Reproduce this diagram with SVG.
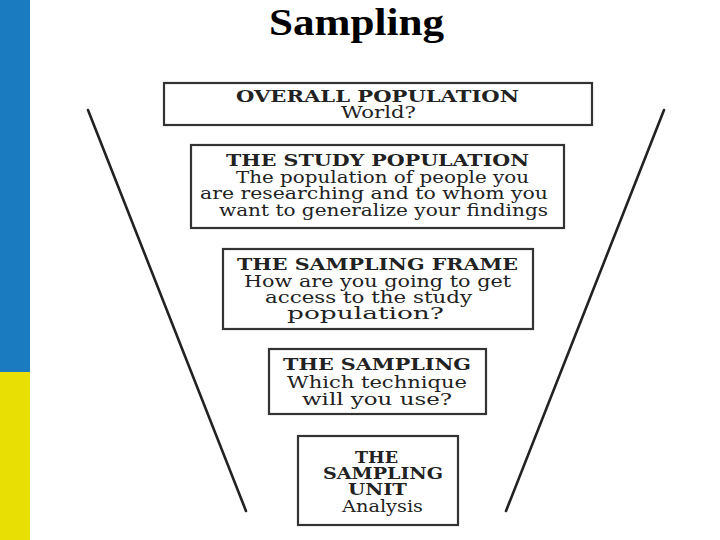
<svg xmlns="http://www.w3.org/2000/svg" width="720" height="540" viewBox="0 0 720 540">
<style>
.box{fill:#fff;stroke:#333;stroke-width:2.2}
.t{font-family:"DejaVu Serif","Liberation Serif",serif;font-size:16.5px;fill:#222}
.b{font-weight:bold;font-size:16px}
.funnel{stroke:#222;stroke-width:2.6;stroke-linecap:round}
</style>
<rect x="0" y="0" width="720" height="540" fill="#fff"/>
<g id="sidebar">
<rect x="0" y="0" width="30" height="372" fill="#1b7bc0"/>
<rect x="0" y="372" width="30" height="168" fill="#e8df04"/>
</g>
<text x="269" y="35" textLength="175" lengthAdjust="spacingAndGlyphs" font-family="Liberation Serif, serif" font-weight="bold" font-size="38" fill="#000">Sampling</text>
<g id="connectors">
<line class="funnel" x1="88" y1="110" x2="246" y2="511"/>
<line class="funnel" x1="664" y1="110" x2="506" y2="511"/>
</g>
<g id="overall-population">
<rect class="box" x="164" y="83" width="428" height="42"/>
<text class="t b" x="236" y="102" textLength="283" lengthAdjust="spacingAndGlyphs">OVERALL POPULATION</text>
<text class="t" x="341" y="118" textLength="75" lengthAdjust="spacingAndGlyphs">World?</text>
</g>
<g id="study-population">
<rect class="box" x="191" y="145" width="373" height="83"/>
<text class="t b" x="226" y="166" textLength="303" lengthAdjust="spacingAndGlyphs">THE STUDY POPULATION</text>
<text class="t" x="236" y="182.5" textLength="293" lengthAdjust="spacingAndGlyphs">The population of people you</text>
<text class="t" x="200" y="199" textLength="348" lengthAdjust="spacingAndGlyphs">are researching and to whom you</text>
<text class="t" x="219" y="216" textLength="329" lengthAdjust="spacingAndGlyphs">want to generalize your findings</text>
</g>
<g id="sampling-frame">
<rect class="box" x="223" y="249" width="310" height="80"/>
<text class="t b" x="237" y="270" textLength="281" lengthAdjust="spacingAndGlyphs">THE SAMPLING FRAME</text>
<text class="t" x="244" y="287" textLength="267" lengthAdjust="spacingAndGlyphs">How are you going to get</text>
<text class="t" x="265" y="303" textLength="207" lengthAdjust="spacingAndGlyphs">access to the study</text>
<text class="t" x="287" y="319" textLength="157" lengthAdjust="spacingAndGlyphs">population?</text>
</g>
<g id="sampling">
<rect class="box" x="269" y="349" width="217" height="65"/>
<text class="t b" x="283" y="370" textLength="188" lengthAdjust="spacingAndGlyphs">THE SAMPLING</text>
<text class="t" x="287" y="388" textLength="180" lengthAdjust="spacingAndGlyphs">Which technique</text>
<text class="t" x="302" y="405" textLength="150" lengthAdjust="spacingAndGlyphs">will you use?</text>
</g>
<g id="sampling-unit">
<rect class="box" x="298" y="436" width="160" height="89"/>
<text class="t b" x="355" y="463" textLength="43" lengthAdjust="spacingAndGlyphs">THE</text>
<text class="t b" x="323" y="479" textLength="120" lengthAdjust="spacingAndGlyphs">SAMPLING</text>
<text class="t b" x="348" y="495" textLength="59" lengthAdjust="spacingAndGlyphs">UNIT</text>
<text class="t" x="342" y="512" textLength="81" lengthAdjust="spacingAndGlyphs">Analysis</text>
</g>
</svg>
